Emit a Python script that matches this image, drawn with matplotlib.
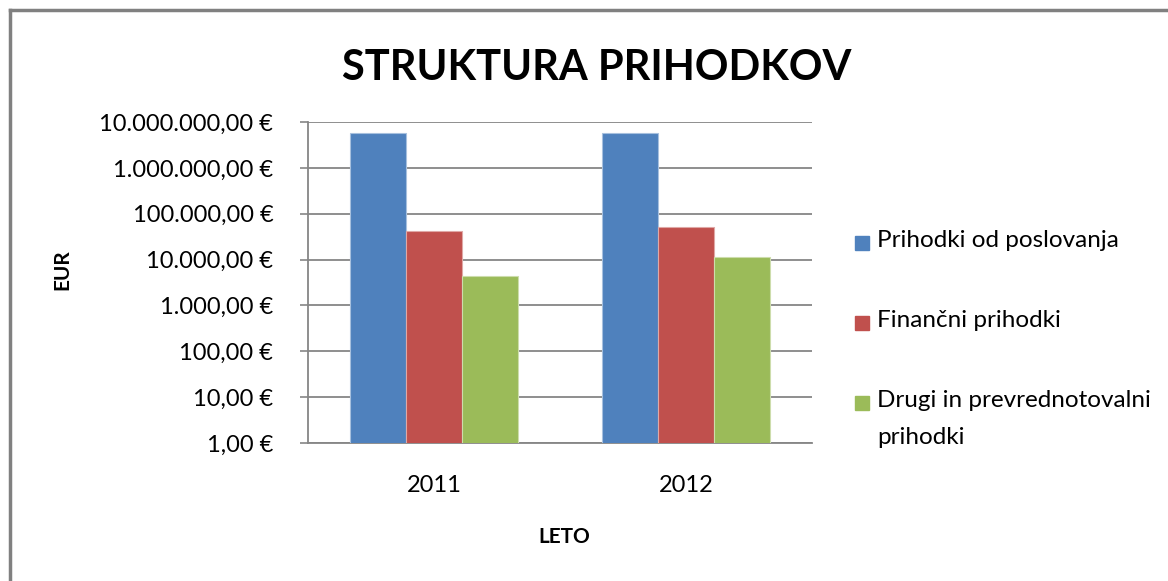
import numpy as np
import matplotlib.pyplot as plt
from matplotlib.ticker import FuncFormatter, NullLocator, LogLocator
from matplotlib.lines import Line2D
from matplotlib.patches import Rectangle

plt.rcParams['font.family'] = ['Lato', 'DejaVu Sans']

# data
years = ['2011', '2012']
series = ['Prihodki od poslovanja', 'Finančni prihodki', 'Drugi in prevrednotovalni\nprihodki']
prihodki_poslovanja = [5.8e6, 5.85e6]
financni_prihodki = [4.1e4, 5.1e4]
drugi_prihodki = [4.4e3, 1.16e4]
values = [prihodki_poslovanja, financni_prihodki, drugi_prihodki]
colors = ['#4F81BD', '#C0504D', '#9BBB59']
edges = ['#A7C0DE', '#DFA8A6', '#CDDDAC']

W, H = 1168, 581
fig = plt.figure(figsize=(W / 100, H / 100), dpi=100)
ax = fig.add_axes([308 / W, 1 - 443 / H, (812 - 308) / W, (443 - 122) / H])

ax.set_yscale('log')
x = np.arange(len(years))
w = 1 / (3 + 1.51)
for i, (vals, c, ec) in enumerate(zip(values, colors, edges)):
    ax.bar(x + (i - 1) * w, vals, w, color=c, edgecolor=ec, linewidth=0.8, zorder=3)

ax.set_ylim(1, 1e7)
ax.set_xlim(-0.5, len(years) - 0.5)


def eur(v, pos):
    s = f'{v:,.2f}'.replace(',', 'X').replace('.', ',').replace('X', '.')
    return s + ' €'


ax.yaxis.set_major_locator(LogLocator(base=10, numticks=20))
ax.yaxis.set_major_formatter(FuncFormatter(eur))
ax.yaxis.set_minor_locator(NullLocator())
ax.set_xticks(x)
ax.set_xticklabels(years)
ax.tick_params(axis='y', length=6, width=1.2, color='#868686', pad=19, labelsize=17)
ax.tick_params(axis='x', length=0, pad=23, labelsize=17)
ax.grid(axis='y', color='#868686', linewidth=1.3, zorder=0)
for s in ['top', 'right']:
    ax.spines[s].set_visible(False)
for s in ['left', 'bottom']:
    ax.spines[s].set_color('#868686')
    ax.spines[s].set_linewidth(1.3)

fig.text(597 / W, 1 - 68 / H, 'STRUKTURA PRIHODKOV', ha='center', va='center',
         fontsize=30, fontweight='bold')
fig.text(62 / W, 1 - 270 / H, 'EUR', ha='center', va='center', rotation=90,
         fontsize=15, fontweight='bold')
fig.text(564 / W, 1 - 537 / H, 'LETO', ha='center', va='center',
         fontsize=15, fontweight='bold')

# legend
leg_y = [243, 323, 403]
for name, c, yy in zip(series, colors, leg_y):
    fig.add_artist(Rectangle((855 / W, 1 - (yy + 7) / H), 14 / W, 14 / H,
                             transform=fig.transFigure, color=c))
    fig.text(877 / W, 1 - (yy - 13) / H, name, ha='left', va='top',
             fontsize=17.5, linespacing=1.95)

# chart border
fig.add_artist(Line2D([10 / W, 10 / W], [0, 1 - 10 / H], transform=fig.transFigure,
                      color='#808080', linewidth=2.5))
fig.add_artist(Line2D([10 / W, 1], [1 - 10 / H, 1 - 10 / H], transform=fig.transFigure,
                      color='#808080', linewidth=2.5))

fig.savefig('out.png', dpi=100)
